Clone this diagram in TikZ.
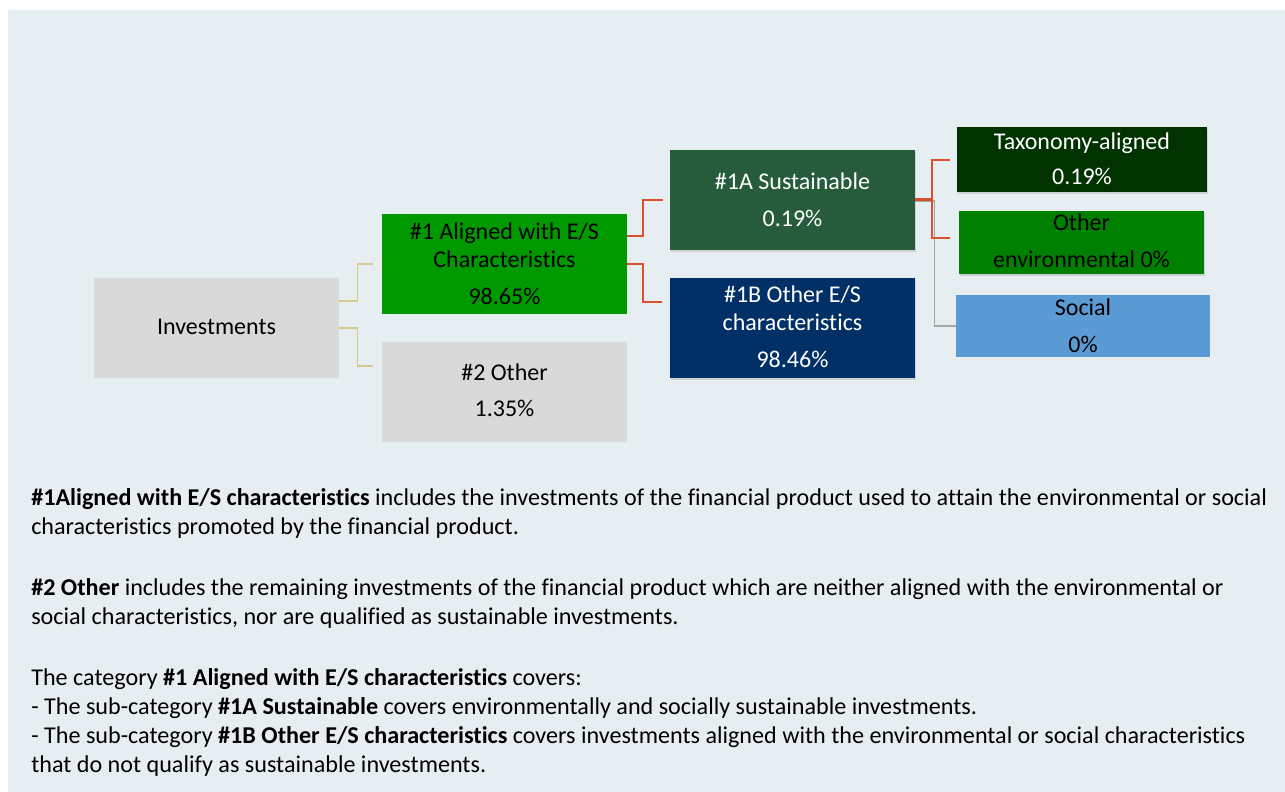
\documentclass[tikz,border=0pt]{standalone}
\usepackage{fontspec}
\setmainfont{Carlito}[Ligatures=NoCommon]
\usepackage{tikz}
\usetikzlibrary{positioning,shadows,calc}
\definecolor{bgblue}{HTML}{E6EEF1}
\definecolor{lightgrey}{HTML}{D9D9D9}
\definecolor{brightgreen}{HTML}{009900}
\definecolor{sustgreen}{HTML}{265B3B}
\definecolor{navyblue}{HTML}{003066}
\definecolor{taxgreen}{HTML}{003300}
\definecolor{envgreen}{HTML}{008000}
\definecolor{socialblue}{HTML}{5B9BD5}
\definecolor{khaki}{HTML}{D6CA8A}
\definecolor{redline}{HTML}{D9502E}
\definecolor{greyline}{HTML}{A6A6A6}

\begin{document}
\begin{tikzpicture}[
		x=0.75pt, y=-0.75pt,
		box/.style={minimum width=183.75pt, minimum height=75pt, inner sep=0pt},
		boxtext/.style={anchor=base, align=center, inner sep=0pt, font=\fontsize{18}{21}\selectfont},
		note/.style={anchor=base west, inner sep=0pt, font=\fontsize{18.1}{21}\selectfont},
		shade/.style={drop shadow={shadow xshift=1pt, shadow yshift=-1.5pt, opacity=0.25}},
		linkY/.style={draw=khaki, line width=1.1pt},
		linkR/.style={draw=redline, line width=1.5pt},
		linkG/.style={draw=greyline, line width=1.1pt}
		]
	
		\useasboundingbox (0,0) rectangle (1285,792);
		\fill[bgblue] (8,10) rectangle (1285,792);
	
		% Boites
		\node[box, fill=lightgrey] (inv) at (216.5,328) {};
		\node[box, fill=brightgreen] (es) at (504.5,264) {};
		\node[box, fill=lightgrey] (oth) at (504.5,392) {};
		\node[box, fill=sustgreen, shade] (sust) at (792.5,200) {};
		\node[box, fill=navyblue, shade] (esb) at (792.5,328) {};
		\node[box, fill=taxgreen, shade, minimum width=187.5pt, minimum height=48.75pt] (tax) at (1082,159.5) {};
		\node[box, fill=envgreen, shade, minimum height=47.25pt] (env) at (1081.5,242.5) {};
		\node[box, fill=socialblue, minimum width=190.5pt, minimum height=46.5pt] (soc) at (1083,326) {};
	
		% Textes des boites (base = derniere ligne)
		\node[boxtext] (invT) at (216.5,334) {Investments};
		\node[boxtext] (esT) at (504.5,304) {\#1 Aligned with E/S\\Characteristics\\[6.4pt]98.65\%};
		\node[boxtext] (othT) at (504.5,416) {\#2 Other\\[6pt]1.35\%};
		\node[boxtext, text=white] (sustT) at (792.5,226) {\#1A Sustainable\\[6.75pt]0.19\%};
		\node[boxtext, text=white] (esbT) at (792.5,367) {\#1B Other E/S\\characteristics\\[6.75pt]98.46\%};
		\node[boxtext, text=white] (taxT) at (1082,184) {Taxonomy-aligned\\[5.25pt]0.19\%};
		\node[boxtext] (envT) at (1081.5,267) {Other\\[6.75pt]environmental 0\%};
		\node[boxtext] (socT) at (1083,352) {Social\\[6.75pt]0\%};
	
		% Liens
		\draw[linkY] ([yshift=20.25pt]inv.east) -- ++(18,0) |- ([xshift=-6.75pt]es.west);
		\draw[linkY] (inv.east) -- ++(18,0) |- ([xshift=-6.75pt, yshift=19.5pt]oth.west);
		\draw[linkR] ([yshift=21pt]es.east) -- ++(16,0) |- ([xshift=-5.25pt]sust.west);
		\draw[linkR] (es.east) -- ++(16,0) |- ([xshift=-6pt, yshift=19.5pt]esb.west);
		\draw[linkG] ([yshift=-0.75pt]sust.east) -- ++(19,0) |- (soc.west);
		\draw[linkR] ([yshift=0.75pt]sust.east) -- ++(17,0) |- ([xshift=-5.25pt]tax.west);
		\draw[linkR] (sust.east) -- ++(17,0) |- ([xshift=-6.75pt, yshift=3.4pt]env.west);
	
		% Texte explicatif
		\node[note] (n1) at (31,505) {\textbf{\#1Aligned with E/S characteristics} includes the investments of the financial product used to attain the environmental or social};
		\node[note] (n2) at (31,534) {characteristics promoted by the financial product.};
		\node[note] (n3) at (31,595) {\textbf{\#2 Other} includes the remaining investments of the financial product which are neither aligned with the environmental or};
		\node[note] (n4) at (31,624) {social characteristics, nor are qualified as sustainable investments.};
		\node[note] (n5) at (31,685) {The category \textbf{\#1 Aligned with E/S characteristics} covers:};
		\node[note] (n6) at (31,714) {- The sub-category \textbf{\#1A Sustainable} covers environmentally and socially sustainable investments.};
		\node[note] (n7) at (31,743) {- The sub-category \textbf{\#1B Other E/S characteristics} covers investments aligned with the environmental or social characteristics};
		\node[note] (n8) at (31,772) {that do not qualify as sustainable investments.};
	\end{tikzpicture}
\end{document}
